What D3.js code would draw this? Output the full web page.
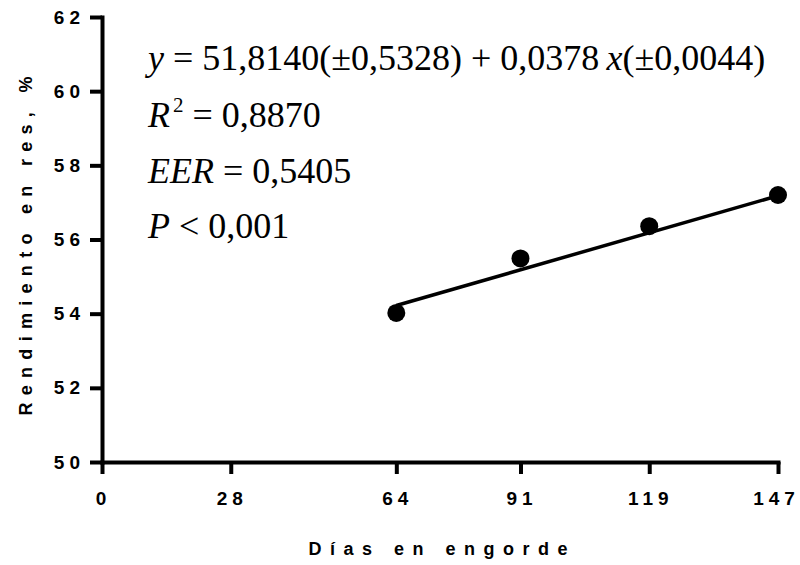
<!DOCTYPE html>
<html>
<head>
<meta charset="utf-8">
<script src="https://cdn.jsdelivr.net/npm/d3@7"></script>
<style>
  body { margin: 0; background: #fff; }
  svg { display: block; }
</style>
</head>
<body>
<svg id="chart" width="800" height="565"></svg>
<script>
// data
const days = [64, 91, 119, 147];
const yieldPct = [54.02, 55.49, 56.36, 57.2];
const fitDays = [64, 147];
const fitYield = [54.22, 57.18];
const xTicks = [0, 28, 64, 91, 119, 147];
const yTicks = [50, 52, 54, 56, 58, 60, 62];

const svg = d3.select("#chart");

// scales
const x = d3.scaleLinear().domain([0, 147]).range([102, 778]);
const y = d3.scaleLinear().domain([50, 62]).range([462, 17]);

const tickFont = "Liberation Sans, Arial, sans-serif";
const ls = 5; // letter spacing of the bold tick labels

// y axis
const yAxis = svg.append("g")
  .attr("transform", `translate(${x(0)},0)`)
  .call(d3.axisLeft(y).tickValues(yTicks).tickSize(12).tickSizeOuter(0).tickPadding(10));

// x axis
const xAxis = svg.append("g")
  .attr("transform", `translate(0,${y(50)})`)
  .call(d3.axisBottom(x).tickValues(xTicks).tickSize(12).tickSizeOuter(0).tickPadding(18));

[yAxis, xAxis].forEach(g => {
  g.select(".domain").attr("stroke", "#000").attr("stroke-width", 4).attr("stroke-linecap", "square");
  g.selectAll(".tick line").attr("stroke", "#000").attr("stroke-width", 4);
  g.selectAll(".tick text")
    .attr("fill", "#000")
    .style("font-family", tickFont)
    .style("font-weight", "bold")
    .style("font-size", "19px")
    .style("letter-spacing", ls + "px");
});
yAxis.selectAll(".tick text").attr("dx", ls);
// last label sits a little left of its tick in the original
xAxis.selectAll(".tick text").attr("dx", d => ls / 2 - 1.5 - (d === 147 ? 3 : 0));

// axis titles
svg.append("text")
  .attr("transform", `translate(32,246) rotate(-90)`)
  .attr("text-anchor", "middle")
  .attr("dx", 3.6)
  .style("font-family", tickFont)
  .style("font-weight", "bold")
  .style("font-size", "18px")
  .style("letter-spacing", "7.3px")
  .text("Rendimiento en res, %");

svg.append("text")
  .attr("x", 438)
  .attr("y", 555)
  .attr("dx", 4.2)
  .attr("text-anchor", "middle")
  .style("font-family", tickFont)
  .style("font-weight", "bold")
  .style("font-size", "18px")
  .style("letter-spacing", "8.5px")
  .text("Días en engorde");

// regression line
const line = d3.line().x((d, i) => x(fitDays[i])).y(d => y(d));
svg.append("path")
  .datum(fitYield)
  .attr("fill", "none")
  .attr("stroke", "#000")
  .attr("stroke-width", 3.5)
  .attr("d", line);

// points
svg.selectAll("circle.pt")
  .data(days)
  .join("circle")
  .attr("class", "pt")
  .attr("cx", d => x(d))
  .attr("cy", (d, i) => y(yieldPct[i]))
  .attr("r", 9)
  .attr("fill", "#000");

// equation block
const eqFont = "Liberation Serif, Times New Roman, serif";
const eqLines = [
  [["y", true], [" = 51,8140(±0,5328) + 0,0378\u2009", false], ["x", true], ["(±0,0044)", false]],
  [["R", true], ["2", false, true], [" = 0,8870", false]],
  [["EER", true], [" = 0,5405", false]],
  [["P", true], [" < 0,001", false]]
];
const eqBase = [70, 127, 183, 238];

eqLines.forEach((parts, li) => {
  const t = svg.append("text")
    .attr("x", 148)
    .attr("y", eqBase[li])
    .style("font-family", eqFont)
    .style("font-size", "36px")
    .attr("fill", "#000");
  parts.forEach(([s, it, sup]) => {
    const ts = t.append("tspan").text(s).style("font-style", it ? "italic" : "normal");
    if (sup) ts.attr("dx", 3).attr("dy", -15).style("font-size", "21px");
    else if (li === 1 && s.startsWith(" =")) ts.attr("dy", 15);
  });
});
</script>
</body>
</html>
